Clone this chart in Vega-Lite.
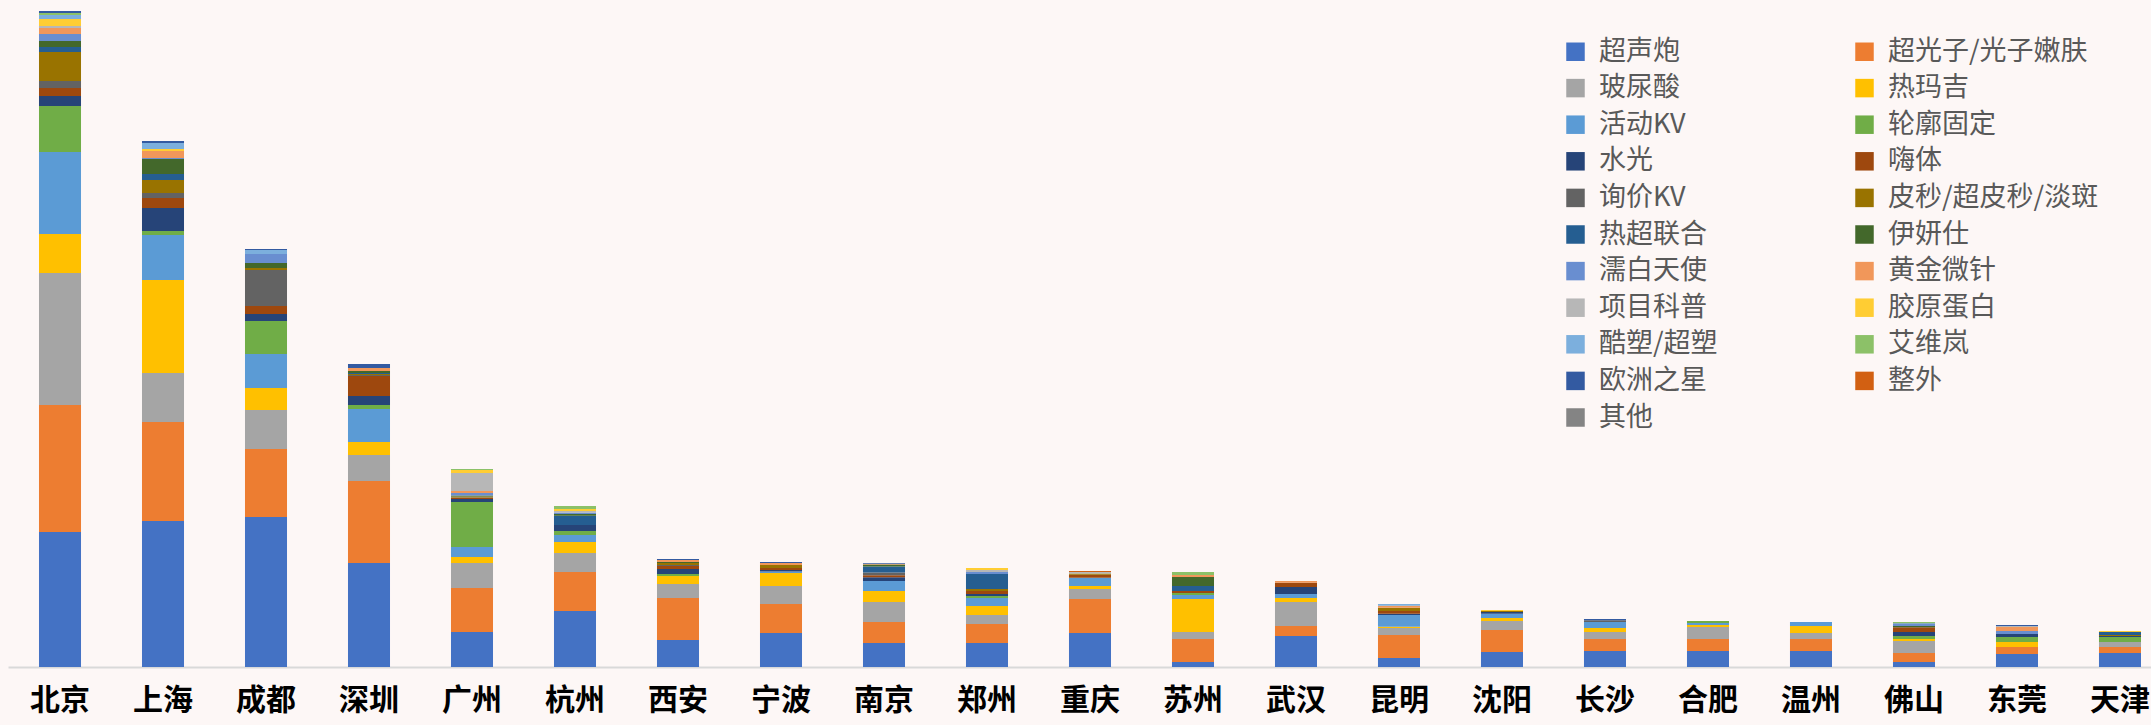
{
  "$schema": "https://vega.github.io/schema/vega-lite/v6.json",
  "width": 2143,
  "height": 667,
  "autosize": {"type": "none"},
  "padding": {"left": 8, "top": 0, "right": 0, "bottom": 58},
  "background": "#fdf7f6",
  "config": {"view": {"stroke": null}},
  "datasets": {
    "items": [
      {"item":"超声炮","rank":1},{"item":"超光子/光子嫩肤","rank":2},{"item":"玻尿酸","rank":3},{"item":"热玛吉","rank":4},{"item":"活动KV","rank":5},{"item":"轮廓固定","rank":6},{"item":"水光","rank":7},{"item":"嗨体","rank":8},{"item":"询价KV","rank":9},{"item":"皮秒/超皮秒/淡斑","rank":10},{"item":"热超联合","rank":11},{"item":"伊妍仕","rank":12},{"item":"濡白天使","rank":13},{"item":"黄金微针","rank":14},{"item":"项目科普","rank":15},{"item":"胶原蛋白","rank":16},{"item":"酷塑/超塑","rank":17},{"item":"艾维岚","rank":18},{"item":"欧洲之星","rank":19},{"item":"整外","rank":20},{"item":"其他","rank":21}
    ]
  },
  "data": {"values": [
    {"city":"北京","item":"超声炮","value":135},{"city":"北京","item":"超光子/光子嫩肤","value":127},{"city":"北京","item":"玻尿酸","value":132},{"city":"北京","item":"热玛吉","value":39},{"city":"北京","item":"活动KV","value":82},{"city":"北京","item":"轮廓固定","value":46},{"city":"北京","item":"水光","value":10},{"city":"北京","item":"嗨体","value":8},{"city":"北京","item":"询价KV","value":7},{"city":"北京","item":"皮秒/超皮秒/淡斑","value":29},{"city":"北京","item":"热超联合","value":5},{"city":"北京","item":"伊妍仕","value":6},{"city":"北京","item":"濡白天使","value":7},{"city":"北京","item":"黄金微针","value":6},{"city":"北京","item":"项目科普","value":2},{"city":"北京","item":"胶原蛋白","value":7},{"city":"北京","item":"酷塑/超塑","value":4},{"city":"北京","item":"艾维岚","value":2},{"city":"北京","item":"欧洲之星","value":2},
    {"city":"上海","item":"超声炮","value":146},{"city":"上海","item":"超光子/光子嫩肤","value":99},{"city":"上海","item":"玻尿酸","value":49},{"city":"上海","item":"热玛吉","value":93},{"city":"上海","item":"活动KV","value":45},{"city":"上海","item":"轮廓固定","value":4},{"city":"上海","item":"水光","value":23},{"city":"上海","item":"嗨体","value":10},{"city":"上海","item":"询价KV","value":5},{"city":"上海","item":"皮秒/超皮秒/淡斑","value":13},{"city":"上海","item":"热超联合","value":6},{"city":"上海","item":"伊妍仕","value":15},{"city":"上海","item":"濡白天使","value":1},{"city":"上海","item":"黄金微针","value":7},{"city":"上海","item":"胶原蛋白","value":2},{"city":"上海","item":"酷塑/超塑","value":6},{"city":"上海","item":"欧洲之星","value":2},
    {"city":"成都","item":"超声炮","value":150},{"city":"成都","item":"超光子/光子嫩肤","value":68},{"city":"成都","item":"玻尿酸","value":39},{"city":"成都","item":"热玛吉","value":22},{"city":"成都","item":"活动KV","value":34},{"city":"成都","item":"轮廓固定","value":33},{"city":"成都","item":"水光","value":7},{"city":"成都","item":"嗨体","value":8},{"city":"成都","item":"询价KV","value":36},{"city":"成都","item":"皮秒/超皮秒/淡斑","value":2},{"city":"成都","item":"伊妍仕","value":5},{"city":"成都","item":"濡白天使","value":9},{"city":"成都","item":"酷塑/超塑","value":4},{"city":"成都","item":"欧洲之星","value":1},
    {"city":"深圳","item":"超声炮","value":104},{"city":"深圳","item":"超光子/光子嫩肤","value":82},{"city":"深圳","item":"玻尿酸","value":26},{"city":"深圳","item":"热玛吉","value":13},{"city":"深圳","item":"活动KV","value":33},{"city":"深圳","item":"轮廓固定","value":4},{"city":"深圳","item":"水光","value":9},{"city":"深圳","item":"嗨体","value":20},{"city":"深圳","item":"询价KV","value":1},{"city":"深圳","item":"皮秒/超皮秒/淡斑","value":1},{"city":"深圳","item":"热超联合","value":1},{"city":"深圳","item":"伊妍仕","value":2},{"city":"深圳","item":"黄金微针","value":3},{"city":"深圳","item":"欧洲之星","value":4},
    {"city":"广州","item":"超声炮","value":35},{"city":"广州","item":"超光子/光子嫩肤","value":44},{"city":"广州","item":"玻尿酸","value":25},{"city":"广州","item":"热玛吉","value":6},{"city":"广州","item":"活动KV","value":10},{"city":"广州","item":"轮廓固定","value":45},{"city":"广州","item":"水光","value":3},{"city":"广州","item":"嗨体","value":1},{"city":"广州","item":"询价KV","value":0.5},{"city":"广州","item":"皮秒/超皮秒/淡斑","value":1},{"city":"广州","item":"伊妍仕","value":1},{"city":"广州","item":"濡白天使","value":2.5},{"city":"广州","item":"黄金微针","value":2},{"city":"广州","item":"项目科普","value":18},{"city":"广州","item":"胶原蛋白","value":3},{"city":"广州","item":"艾维岚","value":1},
    {"city":"杭州","item":"超声炮","value":56},{"city":"杭州","item":"超光子/光子嫩肤","value":39},{"city":"杭州","item":"玻尿酸","value":19},{"city":"杭州","item":"热玛吉","value":11},{"city":"杭州","item":"活动KV","value":7},{"city":"杭州","item":"轮廓固定","value":4},{"city":"杭州","item":"水光","value":6},{"city":"杭州","item":"热超联合","value":9.3},{"city":"杭州","item":"伊妍仕","value":1.7},{"city":"杭州","item":"濡白天使","value":1.5},{"city":"杭州","item":"项目科普","value":1.5},{"city":"杭州","item":"胶原蛋白","value":2},{"city":"杭州","item":"艾维岚","value":3},
    {"city":"西安","item":"超声炮","value":27},{"city":"西安","item":"超光子/光子嫩肤","value":42},{"city":"西安","item":"玻尿酸","value":14},{"city":"西安","item":"热玛吉","value":8},{"city":"西安","item":"轮廓固定","value":2},{"city":"西安","item":"水光","value":5},{"city":"西安","item":"嗨体","value":3},{"city":"西安","item":"询价KV","value":1},{"city":"西安","item":"皮秒/超皮秒/淡斑","value":2},{"city":"西安","item":"伊妍仕","value":1},{"city":"西安","item":"黄金微针","value":2},{"city":"西安","item":"欧洲之星","value":1},
    {"city":"宁波","item":"超声炮","value":34},{"city":"宁波","item":"超光子/光子嫩肤","value":29},{"city":"宁波","item":"玻尿酸","value":18},{"city":"宁波","item":"热玛吉","value":13},{"city":"宁波","item":"活动KV","value":1.5},{"city":"宁波","item":"水光","value":1.5},{"city":"宁波","item":"嗨体","value":2},{"city":"宁波","item":"皮秒/超皮秒/淡斑","value":3},{"city":"宁波","item":"黄金微针","value":2},{"city":"宁波","item":"欧洲之星","value":1},
    {"city":"南京","item":"超声炮","value":24},{"city":"南京","item":"超光子/光子嫩肤","value":21},{"city":"南京","item":"玻尿酸","value":20},{"city":"南京","item":"热玛吉","value":11},{"city":"南京","item":"活动KV","value":10},{"city":"南京","item":"水光","value":3.7},{"city":"南京","item":"嗨体","value":2},{"city":"南京","item":"询价KV","value":2.7},{"city":"南京","item":"热超联合","value":6},{"city":"南京","item":"伊妍仕","value":2},{"city":"南京","item":"黄金微针","value":0.7},{"city":"南京","item":"欧洲之星","value":0.6},
    {"city":"郑州","item":"超声炮","value":24},{"city":"郑州","item":"超光子/光子嫩肤","value":19},{"city":"郑州","item":"玻尿酸","value":9},{"city":"郑州","item":"热玛吉","value":9},{"city":"郑州","item":"活动KV","value":8},{"city":"郑州","item":"轮廓固定","value":2},{"city":"郑州","item":"水光","value":2},{"city":"郑州","item":"嗨体","value":3},{"city":"郑州","item":"皮秒/超皮秒/淡斑","value":2},{"city":"郑州","item":"热超联合","value":15},{"city":"郑州","item":"濡白天使","value":2},{"city":"郑州","item":"项目科普","value":2},{"city":"郑州","item":"胶原蛋白","value":2},
    {"city":"重庆","item":"超声炮","value":34},{"city":"重庆","item":"超光子/光子嫩肤","value":34},{"city":"重庆","item":"玻尿酸","value":10},{"city":"重庆","item":"热玛吉","value":3},{"city":"重庆","item":"活动KV","value":8.3},{"city":"重庆","item":"嗨体","value":3},{"city":"重庆","item":"皮秒/超皮秒/淡斑","value":1.3},{"city":"重庆","item":"项目科普","value":1.3},{"city":"重庆","item":"整外","value":1},
    {"city":"苏州","item":"超声炮","value":5},{"city":"苏州","item":"超光子/光子嫩肤","value":23},{"city":"苏州","item":"玻尿酸","value":7},{"city":"苏州","item":"热玛吉","value":33},{"city":"苏州","item":"活动KV","value":4},{"city":"苏州","item":"轮廓固定","value":2},{"city":"苏州","item":"嗨体","value":2},{"city":"苏州","item":"热超联合","value":5},{"city":"苏州","item":"伊妍仕","value":9},{"city":"苏州","item":"黄金微针","value":2},{"city":"苏州","item":"艾维岚","value":3},
    {"city":"武汉","item":"超声炮","value":31},{"city":"武汉","item":"超光子/光子嫩肤","value":10},{"city":"武汉","item":"玻尿酸","value":24},{"city":"武汉","item":"热玛吉","value":4},{"city":"武汉","item":"活动KV","value":4},{"city":"武汉","item":"水光","value":7},{"city":"武汉","item":"嗨体","value":4.3},{"city":"武汉","item":"黄金微针","value":1.7},
    {"city":"昆明","item":"超声炮","value":9},{"city":"昆明","item":"超光子/光子嫩肤","value":23},{"city":"昆明","item":"玻尿酸","value":7},{"city":"昆明","item":"热玛吉","value":1.3},{"city":"昆明","item":"活动KV","value":11.7},{"city":"昆明","item":"水光","value":1.3},{"city":"昆明","item":"嗨体","value":2.7},{"city":"昆明","item":"皮秒/超皮秒/淡斑","value":3.3},{"city":"昆明","item":"黄金微针","value":2},{"city":"昆明","item":"酷塑/超塑","value":1.7},
    {"city":"沈阳","item":"超声炮","value":15},{"city":"沈阳","item":"超光子/光子嫩肤","value":22},{"city":"沈阳","item":"玻尿酸","value":9},{"city":"沈阳","item":"热玛吉","value":3},{"city":"沈阳","item":"活动KV","value":4.3},{"city":"沈阳","item":"水光","value":1.7},{"city":"沈阳","item":"皮秒/超皮秒/淡斑","value":1},{"city":"沈阳","item":"胶原蛋白","value":1},
    {"city":"长沙","item":"超声炮","value":16},{"city":"长沙","item":"超光子/光子嫩肤","value":12},{"city":"长沙","item":"玻尿酸","value":7},{"city":"长沙","item":"热玛吉","value":4},{"city":"长沙","item":"活动KV","value":6},{"city":"长沙","item":"询价KV","value":1.7},{"city":"长沙","item":"欧洲之星","value":1.3},
    {"city":"合肥","item":"超声炮","value":16},{"city":"合肥","item":"超光子/光子嫩肤","value":12},{"city":"合肥","item":"玻尿酸","value":12},{"city":"合肥","item":"热玛吉","value":2},{"city":"合肥","item":"活动KV","value":2},{"city":"合肥","item":"轮廓固定","value":2},
    {"city":"温州","item":"超声炮","value":16},{"city":"温州","item":"超光子/光子嫩肤","value":12},{"city":"温州","item":"玻尿酸","value":6},{"city":"温州","item":"热玛吉","value":7},{"city":"温州","item":"活动KV","value":4},
    {"city":"佛山","item":"超声炮","value":5},{"city":"佛山","item":"超光子/光子嫩肤","value":9},{"city":"佛山","item":"玻尿酸","value":12},{"city":"佛山","item":"热玛吉","value":2},{"city":"佛山","item":"轮廓固定","value":3},{"city":"佛山","item":"水光","value":4},{"city":"佛山","item":"嗨体","value":4.7},{"city":"佛山","item":"伊妍仕","value":1.3},{"city":"佛山","item":"濡白天使","value":2.7},{"city":"佛山","item":"艾维岚","value":1.3},
    {"city":"东莞","item":"超声炮","value":13},{"city":"东莞","item":"超光子/光子嫩肤","value":7},{"city":"东莞","item":"热玛吉","value":5},{"city":"东莞","item":"轮廓固定","value":5},{"city":"东莞","item":"水光","value":3},{"city":"东莞","item":"濡白天使","value":3},{"city":"东莞","item":"黄金微针","value":4},{"city":"东莞","item":"项目科普","value":1},{"city":"东莞","item":"欧洲之星","value":1},
    {"city":"天津","item":"超声炮","value":14},{"city":"天津","item":"超光子/光子嫩肤","value":6},{"city":"天津","item":"玻尿酸","value":5},{"city":"天津","item":"轮廓固定","value":5},{"city":"天津","item":"水光","value":1},{"city":"天津","item":"皮秒/超皮秒/淡斑","value":1},{"city":"天津","item":"热超联合","value":3},{"city":"天津","item":"胶原蛋白","value":1}
  ]},
  "transform": [
    {"lookup": "item", "from": {"data": {"name": "items"}, "key": "item", "fields": ["rank"]}}
  ],
  "mark": {"type": "bar"},
  "encoding": {
    "x": {
      "field": "city", "type": "nominal",
      "sort": ["北京","上海","成都","深圳","广州","杭州","西安","宁波","南京","郑州","重庆","苏州","武汉","昆明","沈阳","长沙","合肥","温州","佛山","东莞","天津"],
      "scale": {"paddingInner": 0.592, "paddingOuter": 0.199, "align": 0.756},
      "axis": {"title": null, "ticks": false, "domainColor": "#d9d9d9", "domainWidth": 2, "labelAngle": 0, "labelFont": "Noto Sans CJK SC", "labelFontWeight": "bold", "labelFontSize": 30, "labelColor": "#000000", "labelPadding": 18, "grid": false}
    },
    "y": {
      "field": "value", "type": "quantitative", "aggregate": "sum",
      "stack": "zero",
      "scale": {"domain": [0, 667], "nice": false, "zero": true},
      "axis": null
    },
    "order": {"field": "rank", "type": "quantitative", "sort": "ascending"},
    "color": {
      "field": "item", "type": "nominal",
      "scale": {
        "domain": ["超声炮","玻尿酸","活动KV","水光","询价KV","热超联合","濡白天使","项目科普","酷塑/超塑","欧洲之星","其他","超光子/光子嫩肤","热玛吉","轮廓固定","嗨体","皮秒/超皮秒/淡斑","伊妍仕","黄金微针","胶原蛋白","艾维岚","整外"],
        "range": ["#4472C4","#A5A5A5","#5B9BD5","#264478","#636363","#255E91","#698ED0","#B7B7B7","#7CAFDD","#335AA1","#848484","#ED7D31","#FFC000","#70AD47","#9E480E","#997300","#43682B","#F1975A","#FFCD33","#8CC168","#D26012"]
      },
      "legend": {
        "title": null, "orient": "none", "legendX": 1554, "legendY": 38, "columns": 2,
        "direction": "vertical", "padding": 0,
        "symbolType": "square", "symbolSize": 342, "symbolStrokeWidth": 0, "symbolOpacity": 1,
        "labelFont": "Noto Sans CJK SC", "labelFontSize": 27, "labelColor": "#595959", "labelOffset": 10, "labelLimit": 400,
        "rowPadding": 8.6, "columnPadding": 133
      }
    }
  }
}
